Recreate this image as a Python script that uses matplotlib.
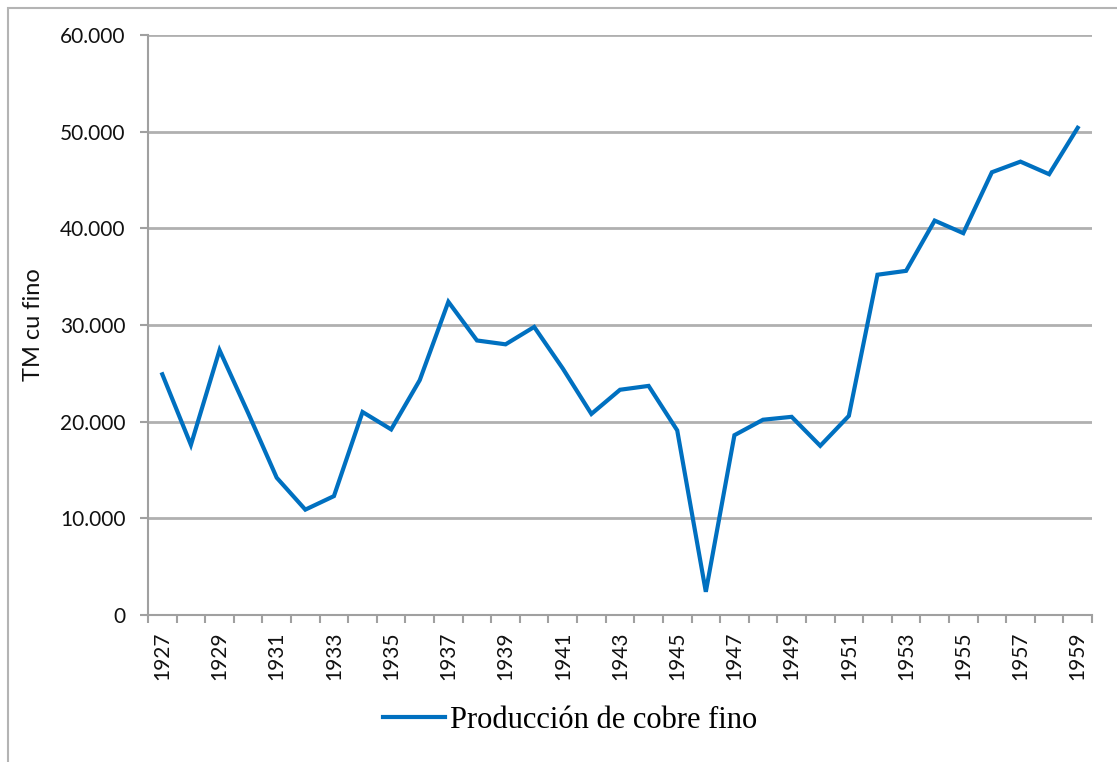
import numpy as np
from matplotlib import pyplot as plt
from matplotlib.patches import Rectangle
from matplotlib.ticker import FuncFormatter, MultipleLocator, FixedLocator

years = list(range(1927, 1960))
produccion = [24900, 17600, 27400, 20900, 14200, 10900, 12300, 21000, 19200, 24300,
              32400, 28400, 28000, 29800, 25500, 20800, 23300, 23700, 19100, 2400,
              18600, 20200, 20500, 17500, 20600, 35200, 35600, 40800, 39500, 45800,
              46900, 45600, 50400]
tick_years = years[::2]

fig = plt.figure(figsize=(11.17, 7.62), dpi=100)
fig.patches.append(Rectangle((8 / 1117, -0.01), 1.02, (762 - 8) / 762 + 0.01,
                             transform=fig.transFigure, fill=False,
                             edgecolor='#b4b4b4', linewidth=1.5))
ax = fig.add_axes([148 / 1117, (762 - 615) / 762, (1092 - 148) / 1117, 580 / 762])

x = np.arange(len(years))
ax.plot(x, produccion, color='#0070c0', linewidth=3, solid_joinstyle='miter',
        label='Producción de cobre fino')

ax.set_xlim(-0.5, len(years) - 0.5)
ax.set_ylim(0, 60000)
ax.yaxis.set_major_locator(MultipleLocator(10000))
ax.yaxis.set_major_formatter(FuncFormatter(lambda v, p: '0' if v == 0 else f'{int(v):,}'.replace(',', '.')))
ax.yaxis.grid(True, color='#b0b0b0', linewidth=2)
ax.set_axisbelow(True)

ax.xaxis.set_major_locator(FixedLocator([years.index(y) for y in tick_years]))
ax.set_xticklabels([str(y) for y in tick_years], rotation=90)
ax.xaxis.set_minor_locator(FixedLocator(np.arange(-0.5, len(years), 1.0)))
ax.tick_params(axis='x', which='major', length=0, pad=12)
ax.tick_params(axis='x', which='minor', length=6, width=1.5, color='#a0a0a0')
ax.tick_params(axis='y', length=6, width=1.5, color='#a0a0a0', pad=10)

for lab in ax.get_xticklabels() + ax.get_yticklabels():
    lab.set_fontfamily('Lato')
    lab.set_fontsize(15)
    lab.set_color('#111111')

for s in ['top', 'right']:
    ax.spines[s].set_visible(False)
for s in ['left', 'bottom']:
    ax.spines[s].set_color('#a0a0a0')
    ax.spines[s].set_linewidth(1.5)

fig.text(33 / 1117, 1 - 325 / 762, 'TM cu fino', rotation=90, ha='center', va='center',
         fontfamily='Lato', fontsize=17, color='#111111')

fig.legend(loc='center', bbox_to_anchor=(570 / 1117, 1 - 720 / 762), frameon=False,
           prop={'family': 'Liberation Serif', 'size': 22}, handlelength=2.05,
           handletextpad=0.15)

fig.savefig('out.png', dpi=100)
